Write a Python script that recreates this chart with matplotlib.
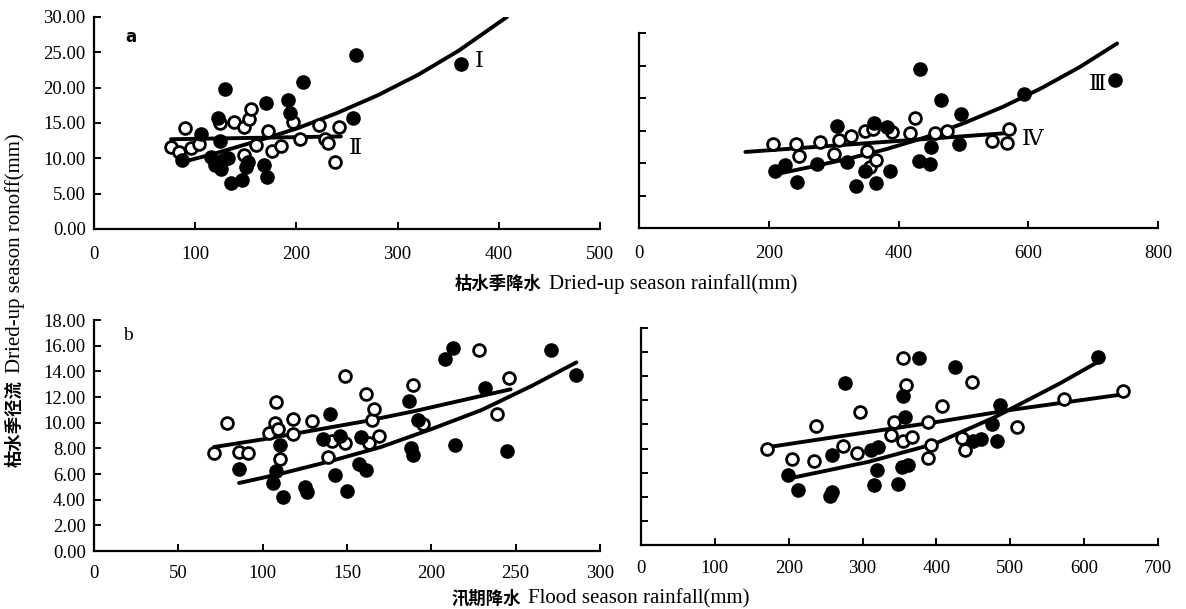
import matplotlib
matplotlib.use("Agg")
import matplotlib.pyplot as plt
from matplotlib.ticker import FormatStrFormatter

plt.rcParams['font.family'] = ['Liberation Serif', 'DejaVu Serif']

# ---- a, left: dried-up season rainfall vs runoff
tl_fill_x = [87, 106, 116, 120, 122, 124, 125, 127, 129, 132, 135, 146, 150, 152,
             168, 170, 171, 192, 194, 206, 256, 259, 363]
tl_fill_y = [9.8, 13.4, 10.2, 9.0, 15.7, 12.5, 8.5, 9.7, 19.8, 10.0, 6.5, 7.0, 8.8, 9.5,
             9.1, 17.8, 7.4, 18.2, 16.4, 20.8, 15.7, 24.6, 23.3]
tl_open_x = [76, 84, 90, 96, 104, 124, 138, 148, 148, 153, 155, 160, 172, 176, 185,
             197, 204, 222, 228, 231, 238, 242]
tl_open_y = [11.6, 10.9, 14.3, 11.4, 12.0, 15.0, 15.2, 14.5, 10.5, 15.6, 17.0, 11.9,
             13.8, 11.0, 11.7, 15.2, 12.7, 14.7, 12.7, 12.1, 9.5, 14.5]
tl_curve1_x = [88, 120, 160, 200, 240, 280, 320, 360, 408]
tl_curve1_y = [9.5, 10.7, 12.4, 14.2, 16.4, 18.9, 21.8, 25.2, 30.0]
tl_curve2_x = [76, 244]
tl_curve2_y = [12.7, 13.1]

# ---- a, right
tr_fill_x = [210, 225, 244, 274, 305, 320, 335, 348, 362, 365, 383, 387, 432, 433,
             448, 450, 465, 493, 496, 594, 734]
tr_fill_y = [8.8, 9.7, 7.1, 9.9, 15.7, 10.2, 6.5, 8.7, 16.1, 7.0, 15.6, 8.7, 10.3, 24.5,
             9.8, 12.5, 19.7, 13.0, 17.6, 20.6, 22.8]
tr_open_x = [207, 242, 246, 279, 301, 309, 326, 349, 351, 356, 360, 365, 390, 418,
             426, 457, 475, 544, 567, 570]
tr_open_y = [13.0, 12.9, 11.1, 13.2, 11.4, 13.6, 14.2, 15.0, 11.8, 9.4, 15.3, 10.4,
             14.8, 14.6, 16.9, 14.6, 15.0, 13.4, 13.1, 15.2]
tr_curve3_x = [207, 260, 320, 380, 440, 500, 560, 620, 680, 737]
tr_curve3_y = [8.2, 9.3, 10.6, 12.1, 13.9, 16.1, 18.6, 21.5, 24.8, 28.4]
tr_curve4_x = [164, 567]
tr_curve4_y = [11.7, 14.6]

# ---- b, left: flood season rainfall vs runoff
bl_fill_x = [86, 106, 108, 110, 112, 125, 126, 136, 140, 143, 146, 150, 157, 158, 161,
             187, 188, 189, 192, 208, 213, 214, 232, 245, 271, 286]
bl_fill_y = [6.4, 5.3, 6.2, 8.3, 4.2, 5.0, 4.6, 8.7, 10.7, 5.9, 9.0, 4.7, 6.8, 8.9, 6.3,
             11.7, 8.0, 7.5, 10.2, 15.0, 15.8, 8.3, 12.7, 7.8, 15.7, 13.7]
bl_open_x = [71, 79, 86, 91, 104, 107, 108, 109, 110, 118, 118, 129, 139, 141, 149,
             149, 161, 163, 165, 166, 169, 189, 195, 228, 239, 246]
bl_open_y = [7.6, 10.0, 7.7, 7.6, 9.2, 10.0, 11.6, 9.5, 7.2, 10.3, 9.1, 10.1, 7.3, 8.6,
             13.6, 8.4, 12.2, 8.4, 10.2, 11.1, 9.0, 12.9, 9.9, 15.7, 10.7, 13.5]
bl_curve1_x = [71, 100, 130, 160, 190, 220, 247]
bl_curve1_y = [8.1, 8.7, 9.4, 10.1, 10.9, 11.8, 12.6]
bl_curve2_x = [86, 110, 140, 170, 200, 230, 260, 286]
bl_curve2_y = [5.3, 6.0, 7.0, 8.1, 9.5, 11.0, 12.9, 14.7]

# ---- b, right
br_fill_x = [199, 212, 256, 258, 258, 276, 312, 316, 319, 321, 348, 353, 355, 357, 362,
             376, 425, 450, 461, 475, 482, 486, 619]
br_fill_y = [5.8, 4.6, 4.1, 4.4, 7.5, 13.4, 7.9, 5.0, 6.2, 8.1, 5.1, 6.5, 12.4, 10.6, 6.6,
             15.5, 14.8, 8.6, 8.8, 10.0, 8.6, 11.6, 15.6]
br_open_x = [170, 204, 234, 237, 273, 292, 297, 339, 342, 355, 355, 359, 367, 388, 389,
             393, 407, 434, 439, 448, 509, 573, 653]
br_open_y = [8.0, 7.1, 7.0, 9.9, 8.2, 7.6, 11.0, 9.1, 10.2, 8.6, 15.5, 13.3, 9.0, 10.2,
             7.2, 8.3, 11.5, 8.9, 7.9, 13.5, 9.8, 12.1, 12.8]
br_curve1_x = [170, 300, 400, 500, 653]
br_curve1_y = [8.1, 9.3, 10.2, 11.2, 12.5]
br_curve2_x = [199, 308, 398, 479, 567, 619]
br_curve2_y = [5.5, 6.9, 8.4, 10.6, 13.4, 15.2]

fig = plt.figure(figsize=(11.86, 6.09), dpi=100)
ax_tl = fig.add_axes([0.0793, 0.6240, 0.4266, 0.3481])
ax_tr = fig.add_axes([0.5388, 0.6256, 0.4376, 0.3202])
ax_bl = fig.add_axes([0.0793, 0.0952, 0.4266, 0.3793])
ax_br = fig.add_axes([0.5405, 0.1051, 0.4359, 0.3563])


def draw_panel(ax, fx, fy, ox, oy, curves):
    for cx, cy in curves:
        ax.plot(cx, cy, color='black', lw=2.8, solid_capstyle='round', zorder=2)
    ax.plot(ox, oy, 'o', ms=8.5, mfc='white', mec='black', mew=2.0, ls='none', zorder=3)
    ax.plot(fx, fy, 'o', ms=9.5, mfc='black', mec='black', ls='none', zorder=4)
    for s in ['top', 'right']:
        ax.spines[s].set_visible(False)
    for s in ['left', 'bottom']:
        ax.spines[s].set_linewidth(1.6)
    ax.tick_params(direction='in', length=5, width=1.4, labelsize=13.5)
    ax.tick_params(axis='x', pad=12)
    ax.tick_params(axis='y', pad=6)


draw_panel(ax_tl, tl_fill_x, tl_fill_y, tl_open_x, tl_open_y,
           [(tl_curve1_x, tl_curve1_y), (tl_curve2_x, tl_curve2_y)])
ax_tl.set_xlim(0, 500)
ax_tl.set_ylim(0, 30)
ax_tl.set_xticks([0, 100, 200, 300, 400, 500])
ax_tl.set_yticks([0, 5, 10, 15, 20, 25, 30])
ax_tl.yaxis.set_major_formatter(FormatStrFormatter('%.2f'))
ax_tl.text(0.061, 0.882, 'a', transform=ax_tl.transAxes, fontsize=12, fontweight='bold',
           family='DejaVu Sans')
ax_tl.text(381, 23.6, 'Ⅰ', fontsize=16, ha='center', va='center',
           family=['Liberation Serif', 'DejaVu Serif'])
ax_tl.text(258, 11.2, 'Ⅱ', fontsize=16, ha='center', va='center',
           family=['Liberation Serif', 'DejaVu Serif'])

draw_panel(ax_tr, tr_fill_x, tr_fill_y, tr_open_x, tr_open_y,
           [(tr_curve3_x, tr_curve3_y), (tr_curve4_x, tr_curve4_y)])
ax_tr.set_xlim(0, 800)
ax_tr.set_ylim(0, 30)
ax_tr.set_xticks([0, 200, 400, 600, 800])
ax_tr.set_yticks([0, 5, 10, 15, 20, 25, 30])
ax_tr.set_yticklabels([])
ax_tr.text(706, 22, 'Ⅲ', fontsize=16, ha='center', va='center',
           family=['Liberation Serif', 'DejaVu Serif'])
ax_tr.text(607, 13.5, 'Ⅳ', fontsize=16, ha='center', va='center',
           family=['Liberation Serif', 'DejaVu Serif'])

draw_panel(ax_bl, bl_fill_x, bl_fill_y, bl_open_x, bl_open_y,
           [(bl_curve1_x, bl_curve1_y), (bl_curve2_x, bl_curve2_y)])
ax_bl.set_xlim(0, 300)
ax_bl.set_ylim(0, 18)
ax_bl.set_xticks([0, 50, 100, 150, 200, 250, 300])
ax_bl.set_yticks(range(0, 19, 2))
ax_bl.yaxis.set_major_formatter(FormatStrFormatter('%.2f'))
ax_bl.text(0.057, 0.935, 'b', transform=ax_bl.transAxes, fontsize=14,
           va='center')
ax_bl.tick_params(axis='x', pad=10)

draw_panel(ax_br, br_fill_x, br_fill_y, br_open_x, br_open_y,
           [(br_curve1_x, br_curve1_y), (br_curve2_x, br_curve2_y)])
ax_br.set_xlim(0, 700)
ax_br.set_ylim(0, 18)
ax_br.set_xticks(range(0, 701, 100))
ax_br.set_yticks(range(0, 19, 2))
ax_br.set_yticklabels([])
ax_br.tick_params(axis='x', pad=11)

# axis titles: bold Chinese part + serif English part
cjk = dict(family='Noto Sans CJK SC', fontweight='bold', fontsize=12.5)
eng = dict(family='Liberation Serif', fontsize=15)

t1 = fig.text(0.3836, 0.525, '枯水季降水', ha='left', va='baseline', **cjk)
ax_tl.annotate('Dried-up season rainfall(mm)', xy=(1, 0.5), xycoords=t1,
               xytext=(5, 0), textcoords='offset points', ha='left', va='center',
               annotation_clip=False, **eng)

t2 = fig.text(0.381, 0.008, '汛期降水', ha='left', va='baseline', **cjk)
ax_bl.annotate('Flood season rainfall(mm)', xy=(1, 0.5), xycoords=t2,
               xytext=(5, 0), textcoords='offset points', ha='left', va='center',
               annotation_clip=False, **eng)

t3 = fig.text(0.0126, 0.233, '枯水季径流', rotation=90, ha='center', va='bottom', **cjk)
ax_bl.annotate('Dried-up season ronoff(mm)', xy=(0.5, 1), xycoords=t3,
               xytext=(0, 5), textcoords='offset points', ha='center', va='bottom',
               rotation=90, annotation_clip=False, **eng)

fig.savefig('out.png', dpi=100)
